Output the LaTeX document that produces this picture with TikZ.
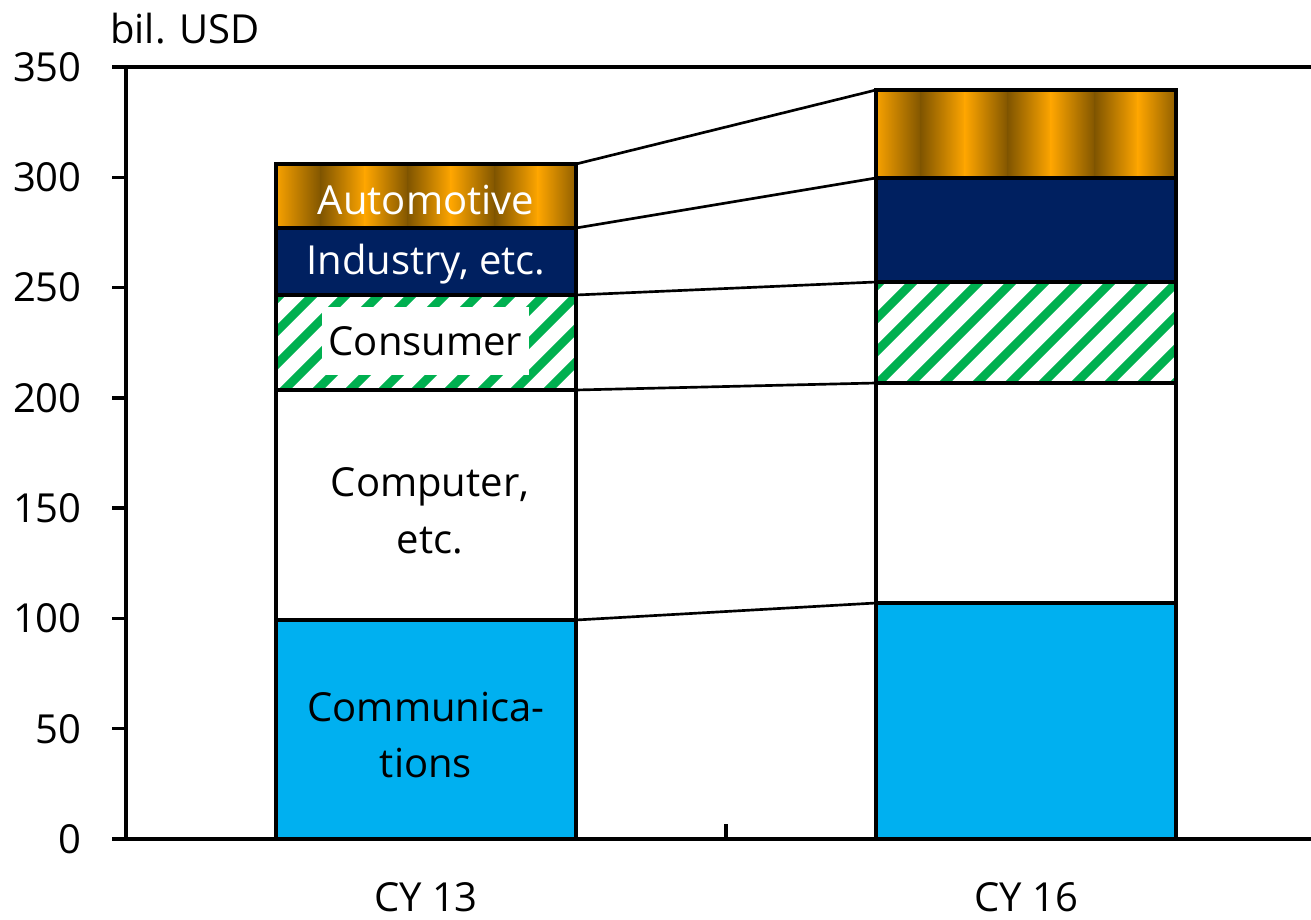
\documentclass[tikz,border=0pt]{standalone}
\usepackage{fontspec}
\setmainfont{Open Sans}
\definecolor{autoBright}{RGB}{255,166,0}
\definecolor{autoDark}{RGB}{128,85,0}
\colorlet{autoEnd}{autoDark!88!autoBright}
\colorlet{autoStart}{autoBright!95!autoDark}
\definecolor{indBlue}{RGB}{0,32,96}
\definecolor{comBlue}{RGB}{0,176,240}
\definecolor{hatchGreen}{RGB}{0,176,80}

% metallic gold stripes: #1 left x, #2 top y, #3 bottom y (bar is 300 px wide)
\newcommand\goldstrips[3]{%
  \foreach \a/\b/\ca/\cb in {0/45/autoStart/autoDark,45/89/autoDark/autoBright,
      89/132/autoBright/autoDark,132/175/autoDark/autoBright,
      175/219/autoBright/autoDark,219/262/autoDark/autoBright,
      262/300/autoBright/autoEnd}
    \shade[left color=\ca,right color=\cb] (#1+\a-0.4,#2) rectangle (#1+\b+0.4,#3);
}
% wide upward diagonal hatch: #1 left x, #2 top y, #3 bottom y
\newcommand\greenhatch[3]{%
  \fill[white] (#1,#2) rectangle (#1+300,#3);
  \begin{scope}
    \clip (#1,#2) rectangle (#1+300,#3);
    \foreach \k in {-1,...,12}
      \draw[hatchGreen,line width=6.4pt] (#1+4+\k*33-200,#2+200) -- (#1+4+\k*33+60,#2-60);
  \end{scope}
}

\begin{document}
\begin{tikzpicture}[x=0.75pt,y=-0.75pt,
  lbl/.style={font=\fontsize{30}{42.5}\selectfont,align=center,inner sep=0pt},
  ticklbl/.style={font=\fontsize{30}{36}\selectfont,anchor=east,inner sep=0pt},
  segline/.style={draw=black,line width=2.4pt},
  axisline/.style={draw=black,line width=2.6pt},
  link/.style={draw=black,line width=2pt}]
\useasboundingbox (0,0) rectangle (1311,920);

% ---- axes frame ----
\draw[axisline] (112,67) -- (1311,67);
\draw[axisline] (126,67) -- (126,839);
\draw[axisline] (112,839) -- (1311,839);
\draw[axisline] (726,839) -- (726,824);
\foreach \v/\y in {0/839,50/728.7,100/618.4,150/508.1,200/397.9,250/287.6,300/177.3,350/67}{
  \draw[axisline] (112,\y) -- (126,\y);
  \node[ticklbl] (t\v) at (82,\y) {\v};
}
\node[lbl,anchor=west] (unit) at (110,29) {bil. USD};

% ---- CY 13 stack (x 276..576) ----
\fill[comBlue] (276,839) rectangle (576,620);
\fill[white] (276,620) rectangle (576,390);
\greenhatch{276}{295}{390}
\fill[indBlue] (276,228) rectangle (576,295);
\goldstrips{276}{164}{228}
\draw[segline] (276,839) rectangle (576,620);
\draw[segline] (276,620) rectangle (576,390);
\draw[segline] (276,390) rectangle (576,295);
\draw[segline] (276,295) rectangle (576,228);
\draw[segline] (276,228) rectangle (576,164);

% ---- CY 16 stack (x 876..1176) ----
\fill[comBlue] (876,839) rectangle (1176,603);
\fill[white] (876,603) rectangle (1176,383);
\greenhatch{876}{282}{383}
\fill[indBlue] (876,178) rectangle (1176,282);
\goldstrips{876}{90}{178}
\draw[segline] (876,839) rectangle (1176,603);
\draw[segline] (876,603) rectangle (1176,383);
\draw[segline] (876,383) rectangle (1176,282);
\draw[segline] (876,282) rectangle (1176,178);
\draw[segline] (876,178) rectangle (1176,90);

% ---- segment tops used by the connectors ----
\coordinate (a13) at (576,164); \coordinate (a16) at (876,90);
\coordinate (i13) at (576,228); \coordinate (i16) at (876,178);
\coordinate (s13) at (576,295); \coordinate (s16) at (876,282);
\coordinate (p13) at (576,390); \coordinate (p16) at (876,383);
\coordinate (c13) at (576,620); \coordinate (c16) at (876,603);
\foreach \s in {a,i,s,p,c}
  \draw[link] (\s13) -- (\s16);

% ---- segment labels ----
\node[lbl,text=white] (lauto) at (426,200) {Automotive};
\node[lbl,text=white] (lind) at (426,264) {Industry, etc.};
\node[lbl,fill=white,minimum width=155pt,minimum height=51pt] (lcons) at (425.5,341) {Consumer};
\node[lbl] (lcomp) at (430,511) {Computer,\\etc.};
\node[lbl] (lcomm) at (426,735) {Communica-\\tions};

% ---- category labels ----
\node[lbl] (cy13) at (426,897) {CY 13};
\node[lbl] (cy16) at (1026,897) {CY 16};
\end{tikzpicture}
\end{document}
